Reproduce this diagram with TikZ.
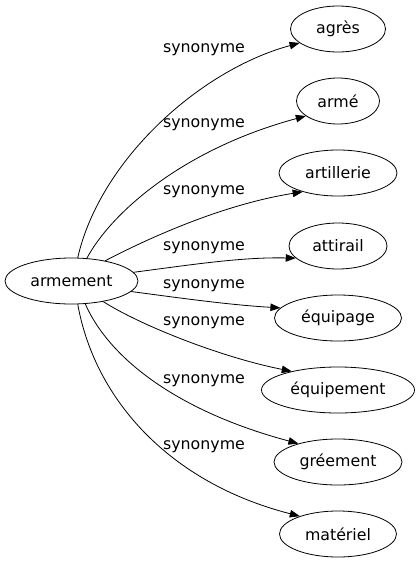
\documentclass[tikz,border=0pt]{standalone}
\usepackage{fontspec}
\setmainfont{DejaVu Sans}
\usetikzlibrary{shapes.geometric,arrows.meta}
\tikzset{
  word/.style={draw, ellipse, inner sep=0pt, minimum height=46pt, line width=0.8pt, font=\fontsize{15.8}{18}\selectfont},
  syn/.style={font=\fontsize{15.8}{18}\selectfont, inner sep=0pt},
  link/.style={line width=0.8pt, -{Triangle[length=10pt,width=7.5pt]}}
}
\begin{document}
\begin{tikzpicture}[x=1pt,y=-1pt]
\useasboundingbox (0,0) rectangle (419,563);
\node[word, minimum width=133pt] (arm) at (71.5,281) {armement};
\node[word, minimum width=95pt] (agres) at (338,29) {agrès};
\node[word, minimum width=83pt] (arme) at (338,101) {armé};
\node[word, minimum width=118pt] (artillerie) at (338,173) {artillerie};
\node[word, minimum width=98pt] (attirail) at (338,246) {attirail};
\node[word, minimum width=127pt] (equipage) at (338,318) {équipage};
\node[word, minimum width=153pt] (equipement) at (338,390) {équipement};
\node[word, minimum width=128pt] (greement) at (338,462) {gréement};
\node[word, minimum width=117pt] (materiel) at (338,534) {matériel};

\draw[link] (arm.75) .. controls (100,160) and (200,70) .. (agres.200);
\draw[link] (arm.56) .. controls (110,215) and (180,150) .. (arme.205);
\draw[link] (arm.31) .. controls (145,240) and (220,205) .. (artillerie.208);
\draw[link] (arm.8) .. controls (190,265) and (240,257) .. (attirail.196);
\draw[link] (arm.-10) .. controls (180,298) and (230,305) .. (equipage.170);
\draw[link] (arm.-33) .. controls (140,325) and (220,357) .. (equipement.158);
\draw[link] (arm.-59) .. controls (110,360) and (180,412) .. (greement.155);
\draw[link] (arm.-75) .. controls (95,400) and (170,483) .. (materiel.155);

\node[syn] (l1) at (204,50) {synonyme};
\node[syn] (l2) at (204,125) {synonyme};
\node[syn] (l3) at (204,192) {synonyme};
\node[syn] (l4) at (204,248) {synonyme};
\node[syn] (l5) at (204,286) {synonyme};
\node[syn] (l6) at (204,323) {synonyme};
\node[syn] (l7) at (204,381) {synonyme};
\node[syn] (l8) at (204,447) {synonyme};
\end{tikzpicture}
\end{document}
